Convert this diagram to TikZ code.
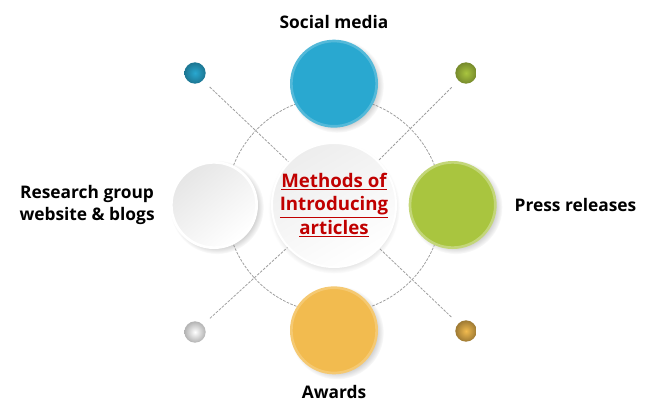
\documentclass[tikz,border=0pt]{standalone}
\usepackage{fontspec}
\setmainfont{Open Sans}
\usetikzlibrary{positioning,shadows,backgrounds}
\definecolor{skyblue}{HTML}{29A8D0}
\definecolor{leafgreen}{HTML}{A9C53F}
\definecolor{sunorange}{HTML}{F2BB4F}
\definecolor{titlered}{HTML}{C00000}
\begin{document}
\begin{tikzpicture}[
    x=0.75pt, y=-0.75pt,
    node distance=91pt,
    bigball/.style={circle, minimum size=64pt, line width=2pt,
      circular drop shadow={shadow xshift=2pt, shadow yshift=-1.5pt, opacity=0.35}},
    smalldot/.style={circle, minimum size=16pt, inner sep=0pt},
    guide/.style={gray!75, line width=0.6pt, dash pattern=on 2pt off 1pt},
    caption/.style={font=\bfseries\fontsize{13}{17}\selectfont, align=center}
  ]
  \useasboundingbox (0,0) rectangle (653,418);
  \node (hub) [circle, minimum size=93pt, inner sep=-3pt, draw=white, line width=1.5pt,
    top color=gray!14, bottom color=white, shading angle=30,
    circular drop shadow={shadow xshift=0pt, shadow yshift=-2pt, shadow scale=1.06, opacity=0.3},
    text=titlered, align=center, font=\bfseries\fontsize{14}{17.5}\selectfont] at (334,205)
    {\underline{Methods of}\\\underline{Introducing}\\\underline{articles}};
  \node (social) [bigball, above of=hub, fill=skyblue, draw=skyblue!80!white] {};
  \node (press) [bigball, right of=hub, node distance=89pt, fill=leafgreen, draw=leafgreen!70!white] {};
  \node (blogs) [bigball, left of=hub, node distance=90pt, top color=gray!20, bottom color=white,
    shading angle=40, draw=white] {};
  \node (awards) [bigball, below of=hub, node distance=94pt, fill=sunorange, draw=sunorange!80!white] {};
  % little dots in the corners
  \node (dotA) [smalldot, inner color=skyblue, outer color=skyblue!70!black] at (195,73) {};
  \node (dotB) [smalldot, inner color=leafgreen, outer color=leafgreen!70!black] at (466,73) {};
  \node (dotC) [smalldot, inner color=white, outer color=gray!60] at (195,332) {};
  \node (dotD) [smalldot, inner color=sunorange, outer color=sunorange!65!black] at (466,331) {};
  \node (t1) [caption, above=5pt of social] {Social media};
  \node (t2) [caption, right=10pt of press] {Press releases};
  \node (t3) [caption, left=8pt of blogs] {Research group\\website \& blogs};
  \node (t4) [caption, below=5pt of awards] {Awards};
  \begin{scope}[on background layer]
    \draw[guide] (hub.center) circle[radius=81pt];
    \draw[guide, shorten <=7pt] (dotA) -- (hub.center);
    \draw[guide, shorten <=7pt] (dotB) -- (hub.center);
    \draw[guide, shorten <=7pt] (dotC) -- (hub.center);
    \draw[guide, shorten <=7pt] (dotD) -- (hub.center);
  \end{scope}
\end{tikzpicture}
\end{document}
